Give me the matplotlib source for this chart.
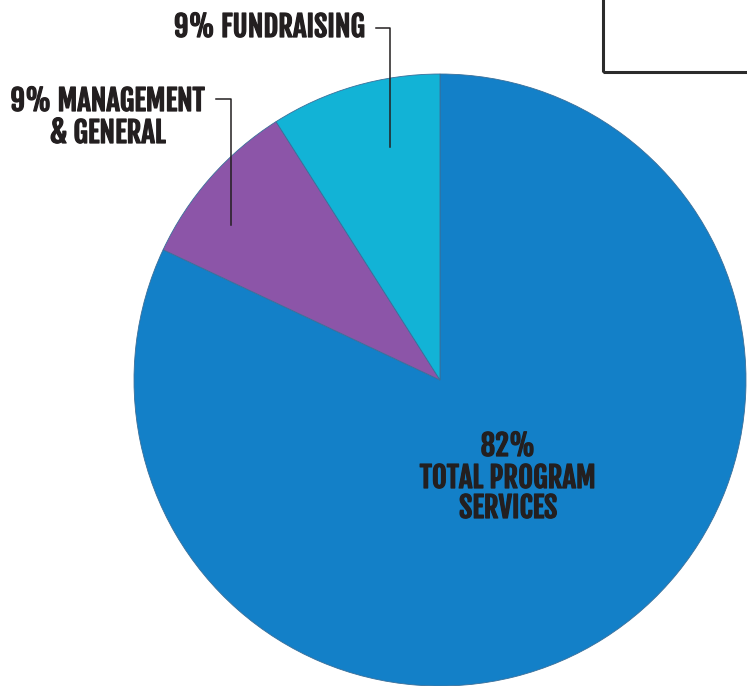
import matplotlib.pyplot as plt
import matplotlib.patheffects as pe
from matplotlib.patches import Rectangle

# Dados
labels = ["TOTAL PROGRAM SERVICES", "MANAGEMENT & GENERAL", "FUNDRAISING"]
values = [82, 9, 9]
colors = ["#1380c8", "#8c55a8", "#12b3d6"]

W, H = 747, 686
fig = plt.figure(figsize=(W / 100, H / 100), dpi=100)
ax = fig.add_axes([0, 0, 1, 1])

cx, cy, r = 440, H - 380, 306
ax.pie(values, colors=colors, startangle=90, counterclock=False,
       center=(cx, cy), radius=r, frame=True,
       wedgeprops=dict(edgecolor="#3a6f9a", linewidth=0.6))
ax.set_xlim(0, W)
ax.set_ylim(0, H)
ax.set_aspect("equal")
ax.axis("off")

txt = "#231f20"
fam = ["Fjalla One", "Anton", "DejaVu Sans"]

# ajusta o tamanho da fonte pela largura medida na referência
renderer = fig.canvas.get_renderer()
probe = ax.text(0, 0, "TOTAL PROGRAM", family=fam, weight="bold", fontsize=20)
w = probe.get_window_extent(renderer).width
fs = 20 * 176 / w
probe.remove()

font = dict(family=fam, weight="bold", color=txt, fontsize=fs,
            path_effects=[pe.withStroke(linewidth=0.9, foreground=txt)])

# caixa no canto superior direito
ax.add_patch(Rectangle((603, H - 72), 200, 120, fill=False, edgecolor="#2b2b2b",
                       linewidth=2.2))

# Rótulos
ax.text(365, H - 27, f"{values[2]}% FUNDRAISING", ha="right", va="center", **font)
ax.plot([376, 390, 390], [H - 28, H - 28, H - 147], color=txt, lw=1.1)

ax.text(205, H - 101, f"{values[1]}% MANAGEMENT", ha="right", va="center", **font)
ax.text(108, H - 133, "& GENERAL", ha="center", va="center", **font)
ax.plot([216, 231, 231], [H - 99, H - 99, H - 225], color=txt, lw=1.1)

ax.text(508, H - 446, f"{values[0]}%", ha="center", va="center", **font)
ax.text(508, H - 478, "TOTAL PROGRAM", ha="center", va="center", **font)
ax.text(508, H - 508, "SERVICES", ha="center", va="center", **font)

plt.savefig("out.png", dpi=100)
